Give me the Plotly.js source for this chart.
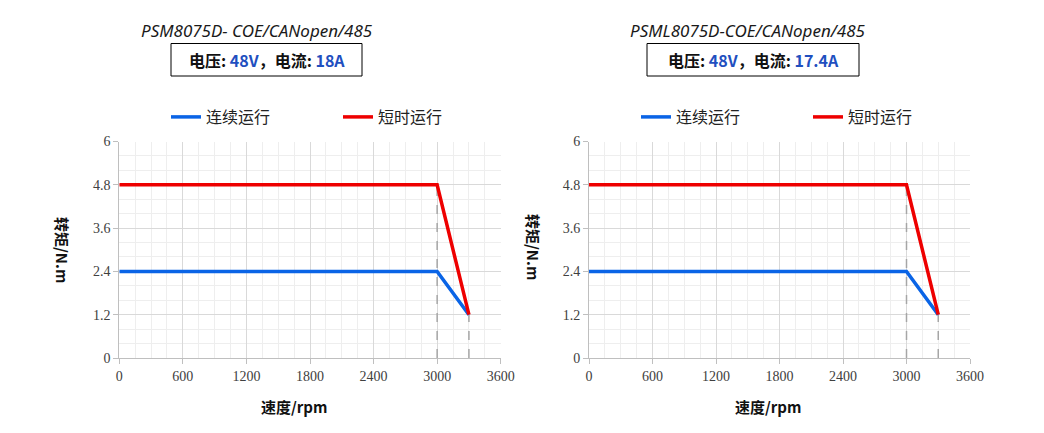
<!DOCTYPE html>
<html>
<head>
<meta charset="utf-8">
<script src="https://cdn.plot.ly/plotly-3.0.1.min.js"></script>
<style>html,body{margin:0;padding:0;background:#fff;}#chart{width:1044px;height:433px;}</style>
</head>
<body>
<div id="chart"></div>
<script>
// ---- data ----
const speed = [0, 3000, 3300];                 // rpm
const contTorqueL = [2.4, 2.4, 1.2];           // 连续运行 left
const peakTorqueL = [4.8, 4.8, 1.2];           // 短时运行 left
const contTorqueR = [2.4, 2.4, 1.2];           // 连续运行 right
const peakTorqueR = [4.8, 4.8, 1.2];           // 短时运行 right
const dropSpeed = [3000, 3300];                // dashed guide x
const dropTorqueL = [4.8, 1.2];
const dropTorqueR = [4.8, 1.2];
const titles = ["PSM8075D- COE/CANopen/485", "PSML8075D-COE/CANopen/485"];
const voltage = ["48V", "48V"];
const current = ["18A", "17.4A"];
const seriesNames = ["连续运行", "短时运行"];
const xTitle = "速度/rpm";
const yTitle = "转矩/N.m";
const xTicks = [0, 600, 1200, 1800, 2400, 3000, 3600];
const yTicks = [0, 1.2, 2.4, 3.6, 4.8, 6];

const BLUE = '#0a64e6', RED = '#ee0000', GUIDE = '#a6a6a6';
const CJK = '"Noto Sans CJK SC", "Noto Sans", sans-serif';

function guideTraces(xs, ys, xa, ya) {
  return xs.map((x, i) => ({
    x: [x, x], y: [0, ys[i]], xaxis: xa, yaxis: ya, mode: 'lines',
    line: {color: GUIDE, width: 1.5, dash: 'dash'}, showlegend: false, hoverinfo: 'skip'
  }));
}

const traces = [
  ...guideTraces(dropSpeed, dropTorqueL, 'x', 'y'),
  {x: speed, y: contTorqueL, xaxis: 'x', yaxis: 'y', mode: 'lines', name: seriesNames[0],
   line: {color: BLUE, width: 3.5}, legend: 'legend'},
  {x: speed, y: peakTorqueL, xaxis: 'x', yaxis: 'y', mode: 'lines', name: seriesNames[1],
   line: {color: RED, width: 3.5}, legend: 'legend'},
  ...guideTraces(dropSpeed, dropTorqueR, 'x2', 'y2'),
  {x: speed, y: contTorqueR, xaxis: 'x2', yaxis: 'y2', mode: 'lines', name: seriesNames[0],
   line: {color: BLUE, width: 3.5}, legend: 'legend2'},
  {x: speed, y: peakTorqueR, xaxis: 'x2', yaxis: 'y2', mode: 'lines', name: seriesNames[1],
   line: {color: RED, width: 3.5}, legend: 'legend2'}
];

const W = 1044, H = 433;
const px = v => v / W, py = v => 1 - v / H;

function xAxis(domain, anchor) {
  return {
    domain: domain, anchor: anchor, range: [0, 3600], tickvals: xTicks, ticktext: xTicks.map(String),
    showgrid: true, gridcolor: '#d9d9d9', gridwidth: 1,
    minor: {dtick: 150, showgrid: true, gridcolor: '#eeeeee', gridwidth: 1},
    showline: true, linecolor: '#bfbfbf', linewidth: 1, ticks: 'outside', ticklen: 5, tickcolor: '#bfbfbf',
    zeroline: false, tickfont: {family: '"Liberation Serif", serif', size: 14, color: '#404040'},
    fixedrange: true
  };
}
function yAxis(domain, anchor) {
  return {
    domain: domain, anchor: anchor, range: [0, 6], tickvals: yTicks, ticktext: yTicks.map(String),
    showgrid: true, gridcolor: '#d9d9d9', gridwidth: 1,
    minor: {dtick: 0.4, showgrid: true, gridcolor: '#eeeeee', gridwidth: 1},
    showline: true, linecolor: '#bfbfbf', linewidth: 1, ticks: 'outside', ticklen: 5, tickcolor: '#bfbfbf',
    zeroline: false, tickfont: {family: '"Liberation Serif", serif', size: 14, color: '#404040'},
    fixedrange: true
  };
}

const yDom = [py(358), py(141.5)];
const panels = [
  {cx: 257, boxL: 171, boxR: 362, xt: 294, yt: 62, ytY: 250},
  {cx: 748, boxL: 647, boxR: 859, xt: 768, yt: 533, ytY: 247}
];

const annotations = [], shapes = [];
panels.forEach((p, i) => {
  annotations.push({
    xref: 'paper', yref: 'paper', x: px(p.cx), y: py(30), xanchor: 'center', yanchor: 'middle',
    text: '<i>' + titles[i] + '</i>', showarrow: false,
    font: {family: '"Noto Sans", sans-serif', size: 17, color: '#1a1a1a'}
  });
  annotations.push({
    xref: 'paper', yref: 'paper', x: px((p.boxL + p.boxR) / 2), y: py(60), xanchor: 'center', yanchor: 'middle',
    text: '电压: <span style="color:#1f4fbf">' + voltage[i] + '</span>，电流: <span style="color:#1f4fbf">' + current[i] + '</span>',
    showarrow: false, font: {family: CJK, size: 16, color: '#111', weight: 600}
  });
  shapes.push({
    type: 'rect', xref: 'paper', yref: 'paper', x0: px(p.boxL), x1: px(p.boxR), y0: py(43.5), y1: py(76),
    line: {color: '#000', width: 1}, fillcolor: 'rgba(0,0,0,0)'
  });
  annotations.push({
    xref: 'paper', yref: 'paper', x: px(p.xt), y: py(406), xanchor: 'center', yanchor: 'middle',
    text: '<b>' + xTitle + '</b>', showarrow: false, font: {family: CJK, size: 15, color: '#111'}
  });
  annotations.push({
    xref: 'paper', yref: 'paper', x: px(p.yt), y: py(p.ytY), xanchor: 'center', yanchor: 'middle',
    text: '<b>' + yTitle + '</b>', showarrow: false, textangle: 90, font: {family: CJK, size: 15, color: '#111'}
  });
});

const legendBase = {
  orientation: 'h', yanchor: 'middle', xanchor: 'left', y: py(117),
  font: {family: CJK, size: 16, color: '#222'}, bgcolor: 'rgba(0,0,0,0)', borderwidth: 0,
  entrywidth: 127, entrywidthmode: 'pixels', itemclick: false, itemdoubleclick: false
};

const layout = {
  width: W, height: H, margin: {l: 0, r: 0, t: 0, b: 0}, paper_bgcolor: '#fff', plot_bgcolor: '#fff',
  showlegend: true,
  xaxis: xAxis([px(119.3), px(500.7)], 'y'),
  yaxis: yAxis(yDom, 'x'),
  xaxis2: xAxis([px(589), px(970)], 'y2'),
  yaxis2: yAxis(yDom, 'x2'),
  legend: Object.assign({}, legendBase, {x: px(166)}),
  legend2: Object.assign({}, legendBase, {x: px(636)}),
  annotations: annotations, shapes: shapes
};

Plotly.newPlot('chart', traces, layout, {displayModeBar: false, staticPlot: true});
</script>
</body>
</html>
